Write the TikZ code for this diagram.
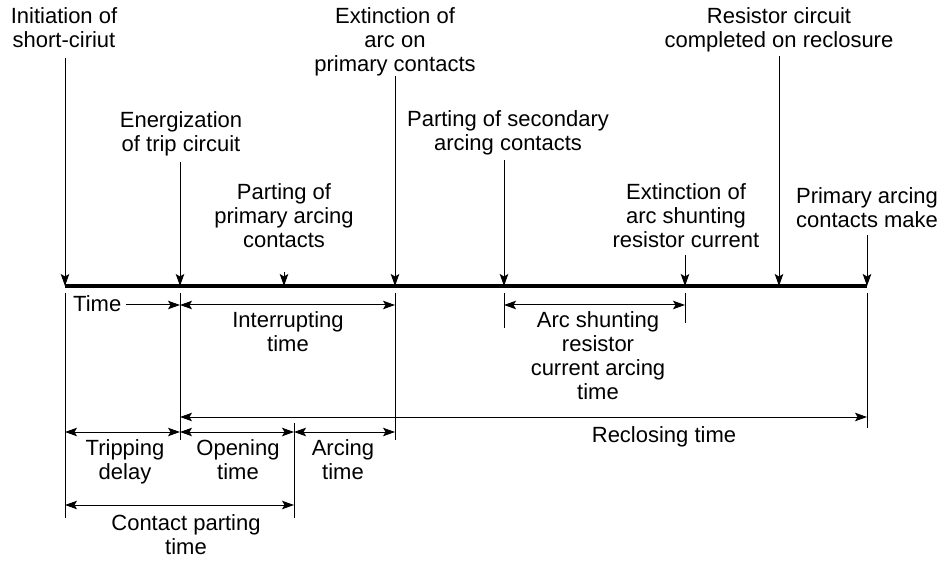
\documentclass[tikz,border=0pt]{standalone}
\usepackage{fontspec}
\setmainfont{Liberation Sans}
\usetikzlibrary{arrows.meta}
\begin{document}
\begin{tikzpicture}[x=1pt,y=-1pt,
  font=\fontsize{22}{24}\selectfont,
  lab/.style={align=center, anchor=south, inner sep=0pt, text depth=0pt},
  arr/.style={-{Stealth[length=12pt,width=8.5pt,inset=2.5pt]}, line width=1pt},
  dbl/.style={{Stealth[length=12pt,width=8.5pt,inset=2.5pt]}-{Stealth[length=12pt,width=8.5pt,inset=2.5pt]}, line width=1pt},
  tickline/.style={line width=1pt},
  axis/.style={line width=4pt}]
\useasboundingbox (0,0) rectangle (940,561);

% event points on the axis
\coordinate (t1) at (65,286);
\coordinate (t2) at (180,286);
\coordinate (t3) at (284,286);
\coordinate (t4) at (395,286);
\coordinate (t5) at (504,286);
\coordinate (t6) at (685,286);
\coordinate (t7) at (779,286);
\coordinate (t8) at (867,286);

% axis
\draw[axis] (t1) -- (t8);

% top labels and arrows
\node[lab] (L1) at (64,48) {Initiation of\\short-ciriut};
\coordinate (s1) at (65,58);
\node[lab] (L2) at (181,152) {Energization\\of trip circuit};
\coordinate (s2) at (180,162);
\node[lab] (L3) at (284,248) {Parting of\\primary arcing\\contacts};
\coordinate (s3) at (284,272);
\node[lab] (L4) at (395,72) {Extinction of\\arc on\\primary contacts};
\coordinate (s4) at (395,76);
\node[lab] (L5) at (508,151) {Parting of secondary\\arcing contacts};
\coordinate (s5) at (504,160);
\node[lab] (L6) at (686,248) {Extinction of\\arc shunting\\resistor current};
\coordinate (s6) at (685,255);
\node[lab] (L7) at (779,48) {Resistor circuit\\completed on reclosure};
\coordinate (s7) at (779,56);
\node[lab] (L8) at (867,228) {Primary arcing\\contacts make};
\coordinate (s8) at (867,235);

\foreach \i in {1,...,8} {\draw[arr] (s\i) -- (t\i);}

% tick lines below the axis
\coordinate (b1) at (65,518);
\coordinate (b2) at (180,440);
\coordinate (b3) at (294,518);
\coordinate (u3) at (294,423);
\coordinate (b4) at (395,440);
\coordinate (b5) at (504,328);
\coordinate (b6) at (685,323);
\coordinate (b8) at (867,428);
\coordinate (u1) at (65,293);
\coordinate (u2) at (180,293);
\coordinate (u4) at (395,293);
\coordinate (u5) at (504,293);
\coordinate (u6) at (685,293);
\coordinate (u8) at (867,293);
\draw[tickline] (u1) -- (b1);
\draw[tickline] (u2) -- (b2);
\draw[tickline] (u3) -- (b3);
\draw[tickline] (u4) -- (b4);
\draw[tickline] (u5) -- (b5);
\draw[tickline] (u6) -- (b6);
\draw[tickline] (u8) -- (b8);

% Time arrow
\node[anchor=base west, inner sep=0pt] (Ltime) at (73,312) {Time};
\coordinate (tA) at (126,305);
\coordinate (tB) at (180,305);
\draw[arr] (tA) -- (tB);

% Interrupting time
\coordinate (iA) at (180,305);
\coordinate (iB) at (395,305);
\draw[dbl] (iA) -- (iB);
\node[lab] (Lint) at (288,352) {Interrupting\\time};

% Arc shunting resistor current arcing time
\coordinate (aA) at (504,305);
\coordinate (aB) at (685,305);
\draw[dbl] (aA) -- (aB);
\node[lab] (Lash) at (598,400) {Arc shunting\\resistor\\current arcing\\time};

% Reclosing time
\coordinate (rA) at (180,417);
\coordinate (rB) at (867,417);
\draw[dbl] (rA) -- (rB);
\node[lab] (Lrec) at (664,443) {Reclosing time};

% Tripping delay, opening time, arcing time
\coordinate (dA) at (65,432);
\coordinate (dB) at (180,432);
\coordinate (dC) at (294,432);
\coordinate (dD) at (395,432);
\draw[dbl] (dA) -- (dB);
\draw[dbl] (dB) -- (dC);
\draw[dbl] (dC) -- (dD);
\node[lab] (Ltrip) at (125,480) {Tripping\\delay};
\node[lab] (Lopen) at (238,480) {Opening\\time};
\node[lab] (Larc) at (343,480) {Arcing\\time};

% Contact parting time
\coordinate (cA) at (65,505);
\coordinate (cB) at (294,505);
\draw[dbl] (cA) -- (cB);
\node[lab] (Lcont) at (186,555) {Contact parting\\time};
\end{tikzpicture}
\end{document}
